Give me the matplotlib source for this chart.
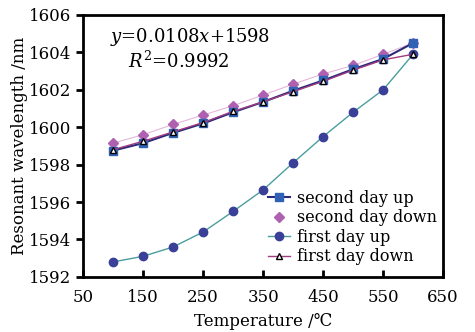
import matplotlib
matplotlib.use("Agg")
import matplotlib.pyplot as plt
from matplotlib.lines import Line2D

plt.rcParams["font.family"] = ["DejaVu Serif"]
plt.rcParams["mathtext.fontset"] = "dejavuserif"

temps = [100, 150, 200, 250, 300, 350, 400, 450, 500, 550, 600]
second_up = [1598.75, 1599.15, 1599.7, 1600.2, 1600.8, 1601.35, 1601.95, 1602.5, 1603.1, 1603.65, 1604.5]
second_down = [1599.15, 1599.6, 1600.15, 1600.65, 1601.15, 1601.72, 1602.3, 1602.85, 1603.3, 1603.9, 1604.5]
first_up = [1592.8, 1593.1, 1593.6, 1594.4, 1595.5, 1596.65, 1598.1, 1599.5, 1600.8, 1602.0, 1603.9]
first_down = [1598.8, 1599.25, 1599.75, 1600.25, 1600.85, 1601.35, 1601.9, 1602.45, 1603.05, 1603.6, 1603.9]

fig = plt.figure(figsize=(4.75, 3.32), dpi=100)
ax = fig.add_axes([0.175, 0.166, 0.758, 0.789])

ax.plot(temps, second_down, color="#e4b8dc", lw=0.8, marker="D", ms=5,
        mfc="#b060b0", mec="#b060b0")
l_fu, = ax.plot(temps, first_up, color="#4a9e9e", lw=1.0, marker="o", ms=6,
                mfc="#3a3f98", mec="#3a3f98")
l_su, = ax.plot(temps, second_up, color="#2a2a78", lw=1.5, marker="s", ms=6,
                mfc="#2f62b4", mec="#2f62b4")
l_fd, = ax.plot(temps, first_down, color="#a03c80", lw=1.0, marker="^", ms=5,
                mfc="white", mec="black", mew=1.0)
sd_handle = Line2D([], [], ls="none", marker="D", ms=5, mfc="#b060b0", mec="#b060b0")

ax.set_xlim(50, 650)
ax.set_ylim(1592, 1606)
ax.set_xticks(range(50, 651, 100))
ax.set_yticks(range(1592, 1607, 2))
for s in ax.spines.values():
    s.set_linewidth(2)
ax.tick_params(axis="x", direction="in", width=2, length=5, labelsize=12, pad=9)
ax.tick_params(axis="y", direction="out", width=2, length=5, labelsize=12)
ax.set_xlabel("Temperature /℃", fontsize=12, labelpad=5)
ax.set_ylabel("Resonant wavelength /nm", fontsize=12, labelpad=1)

ax.text(0.075, 0.895, "$y$=0.0108$x$+1598", transform=ax.transAxes, fontsize=13)
ax.text(0.265, 0.80, "$R^2$=0.9992", transform=ax.transAxes, fontsize=13, ha="center")

ax.legend([l_su, sd_handle, l_fu, l_fd],
          ["second day up", "second day down", "first day up", "first day down"],
          loc="lower right", frameon=False, fontsize=11.5, handlelength=1.4,
          handletextpad=0.4, labelspacing=0.15, borderaxespad=0.0,
          bbox_to_anchor=(1.0, 0.02))

fig.savefig("out.png", dpi=100)
